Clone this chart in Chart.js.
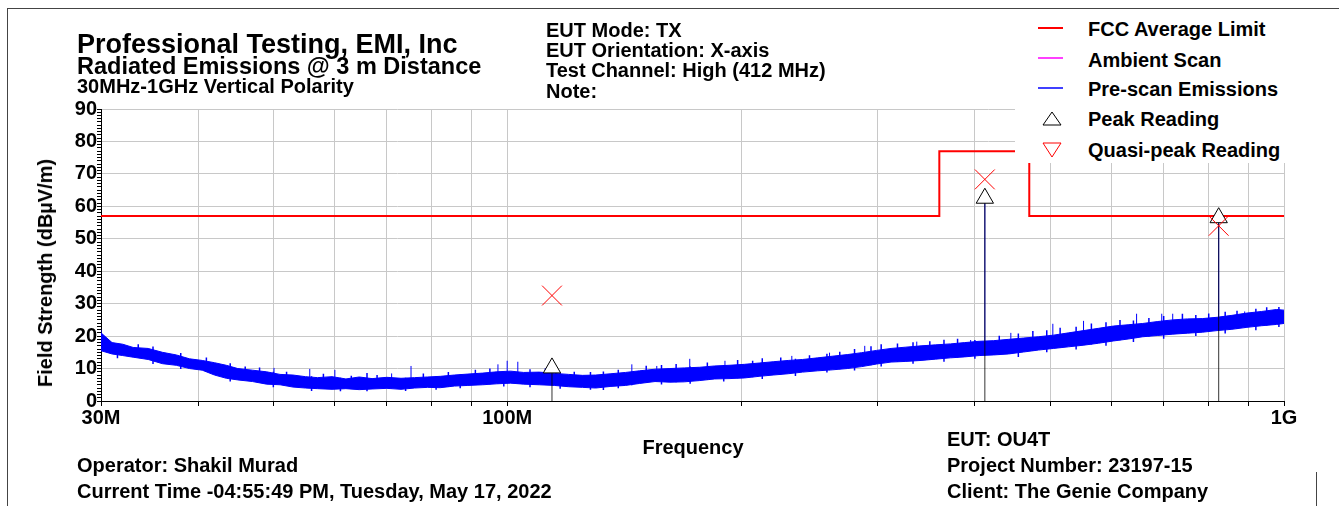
<!DOCTYPE html>
<html>
<head>
<meta charset="utf-8">
<script src="https://cdn.jsdelivr.net/npm/chart.js@4.4.0/dist/chart.umd.min.js"></script>
<style>
  body { margin: 0; background: #fff; }
  #wrap { position: relative; width: 1339px; height: 506px; overflow: hidden;
          font-family: 'Liberation Sans', Arial, sans-serif; font-weight: bold; color: #000; }
  #wrap canvas { position: absolute; left: 0; top: 0; }
  .t { position: absolute; white-space: nowrap; line-height: 1; font-size: 20px; }
  .ln { position: absolute; background: #444; }
  #legend { position: absolute; left: 1015px; top: 10px; width: 324px; height: 153px; background: #fff; }
</style>
</head>
<body>
<div id="wrap">
  <canvas id="chart" width="1339" height="506"></canvas>

  <div class="ln" style="left:7px; top:8px; width:1332px; height:1px;"></div>
  <div class="ln" style="left:7px; top:8px; width:1px; height:498px;"></div>
  <div class="ln" style="left:1316px; top:472px; width:1px; height:34px;"></div>

  <div class="t" style="left:77px; top:31px; font-size:27px;">Professional Testing, EMI, Inc</div>
  <div class="t" style="left:77px; top:55px; font-size:23.5px;">Radiated Emissions @ 3 m Distance</div>
  <div class="t" style="left:77px; top:76px;">30MHz-1GHz Vertical Polarity</div>

  <div class="t" style="left:546px; top:20px;">EUT Mode: TX</div>
  <div class="t" style="left:546px; top:40px;">EUT Orientation: X-axis</div>
  <div class="t" style="left:546px; top:60px;">Test Channel: High (412 MHz)</div>
  <div class="t" style="left:546px; top:81px;">Note:</div>

  <div id="legend">
    <svg width="60" height="153" style="position:absolute; left:0; top:0;">
      <line x1="23" y1="18" x2="48" y2="18" stroke="#ff0000" stroke-width="2"/>
      <line x1="23" y1="48" x2="48" y2="48" stroke="#ff00ff" stroke-width="1.5"/>
      <line x1="23" y1="78" x2="48" y2="78" stroke="#0000ff" stroke-width="1.5"/>
      <polygon points="28,115 46,115 37,102" fill="#fff" stroke="#000" stroke-width="1"/>
      <polygon points="28,133 46,133 37,147" fill="#fff" stroke="#ff0000" stroke-width="1"/>
    </svg>
    <div class="t" style="left:73px; top:9px;">FCC Average Limit</div>
    <div class="t" style="left:73px; top:40px;">Ambient Scan</div>
    <div class="t" style="left:73px; top:69px;">Pre-scan Emissions</div>
    <div class="t" style="left:73px; top:99px;">Peak Reading</div>
    <div class="t" style="left:73px; top:130px;">Quasi-peak Reading</div>
  </div>

  <div class="t" style="left:45px; top:273px; transform:translate(-50%,-50%) rotate(-90deg);">Field Strength (dBµV/m)</div>
  <div class="t" style="left:693px; top:437px; transform:translateX(-50%);">Frequency</div>

  <div class="t" style="left:77px; top:455px;">Operator: Shakil Murad</div>
  <div class="t" style="left:77px; top:481px;">Current Time -04:55:49 PM, Tuesday, May 17, 2022</div>
  <div class="t" style="left:947px; top:429px;">EUT: OU4T</div>
  <div class="t" style="left:947px; top:455px;">Project Number: 23197-15</div>
  <div class="t" style="left:947px; top:481px;">Client: The Genie Company</div>
</div>

<script>
// limit line (MHz, dBuV/m)
const limitFreq = [30, 360, 360, 470, 470, 1000];
const limitLevel = [57, 57, 77, 77, 57, 57];

// pre-scan emissions: band edges
const scanFreq = [30, 31, 32, 33, 34.5, 36, 37.5, 39, 40.5, 42,
  43.5, 45, 47, 49, 51, 53, 55, 57, 59.5, 62,
  64.5, 67, 70, 73, 76, 79, 82, 85.5, 89, 93,
  97, 101, 105, 110, 115, 120, 125, 130, 136, 142,
  148, 155, 162, 169, 177, 185, 193, 202, 211, 220,
  230, 240, 251, 262, 274, 286, 299, 312, 326, 341,
  356, 372, 388, 405, 423, 442, 462, 483, 505, 528,
  552, 577, 603, 630, 658, 688, 719, 751, 785, 820,
  857, 896, 936, 978, 1000];
const scanLow = [15.5, 14.5, 14, 13.5, 12.8, 11.5, 11, 10, 9.5, 8,
  7, 6.5, 6, 5.2, 5, 4.3, 4, 3.8, 3.6, 3.8,
  3.5, 3.7, 3.9, 3.6, 4, 4.2, 4.1, 4.6, 4.8, 5,
  5.3, 5.5, 5.2, 5, 4.8, 4.4, 4.2, 4, 4.5, 4.8,
  5.4, 6, 5.8, 5.9, 6.3, 6.8, 6.9, 7.1, 7.6, 8,
  8.4, 8.9, 9.3, 9.6, 10, 10.6, 11.4, 12, 12.2, 12.5,
  12.9, 13.3, 13.6, 14, 14.2, 14.5, 15.1, 15.7, 16.2, 16.7,
  17.2, 17.8, 18.5, 19.1, 19.8, 20.2, 20.6, 20.9, 21.2, 21.7,
  22.1, 22.7, 23.2, 23.6, 23.9];
const scanHigh = [21, 18, 17.5, 16.5, 16.2, 15, 14.2, 13, 12.5, 11.8,
  11, 10, 9.5, 9, 8.2, 8, 7.5, 7.2, 7.5, 6.8,
  7.4, 6.9, 7.3, 7, 7.2, 7.4, 7.6, 8, 8.3, 8.6,
  9, 9.2, 8.8, 8.9, 8.5, 8.2, 7.9, 8, 8.4, 8.8,
  9.3, 9.8, 10, 10.2, 10.4, 10.8, 11, 11.3, 11.7, 12.1,
  12.5, 12.8, 13.3, 13.8, 14.3, 14.9, 15.6, 16.2, 16.6, 17,
  17.3, 17.6, 18, 18.4, 18.6, 19, 19.4, 19.8, 20.3, 21,
  21.7, 22.4, 23.1, 23.5, 23.9, 24.5, 25, 25.3, 25.4, 25.8,
  26.4, 27.1, 27.6, 28.2, 28];

// noise strokes sticking out of the band (low end, high end)
const strokeFreq = [31.5, 33.5, 35, 38, 41, 44, 46, 48, 50, 52,
  56, 58, 61, 63, 66, 68, 74, 78, 81, 84,
  87, 91, 95, 99, 107, 112, 117, 122, 128, 133,
  139, 151, 158, 165, 172, 181, 190, 198, 207, 213,
  225, 235, 245, 258, 268, 280, 294, 303, 318, 333,
  350, 365, 380, 400, 430, 455, 475, 495, 515, 540,
  565, 590, 615, 640, 670, 700, 740, 770, 800, 840,
  870, 920, 950, 985];
const strokeLow = [13.2, 14, 11.4, 9.9, 9, 6, 6.8, 5.8, 4.2, 4.8,
  3.1, 4, 3, 4, 3, 4, 3.1, 4.2, 3.5, 4.3,
  3.9, 5, 5.2, 4.5, 4.2, 5, 3.8, 4.4, 3.5, 3.4,
  3.9, 5.7, 5.1, 5.8, 5.3, 6.5, 6, 7, 7.3, 6.8,
  8.2, 7.7, 9, 8.8, 9.8, 9.4, 11, 10.6, 12, 11.5,
  12.7, 12.1, 13.4, 13, 14.2, 13.6, 15.4, 15, 16.4, 15.9,
  17.4, 17, 18.7, 18.2, 19.9, 19.2, 20.7, 20, 21.4, 20.8,
  22.2, 21.8, 23.3, 22.8];
const strokeHigh = [17, 17.5, 16.8, 14.8, 13.4, 11.6, 10.6, 10.3, 9, 9,
  7.6, 8.4, 7.2, 7.8, 8.6, 8, 7.2, 8.5, 7.6, 8.9,
  8.2, 9.6, 10, 9, 9.8, 10.1, 8.6, 9, 8.9, 9.1,
  9.6, 10.9, 11.1, 11.4, 10.6, 11.9, 11, 12.6, 12.4, 13.2,
  13.4, 13, 14.1, 14.6, 15.2, 16, 16.9, 17.5, 17.7, 18.1,
  18.4, 18.9, 19.2, 18.8, 20.1, 20.8, 21.6, 21.8, 22.6, 22.9,
  23.9, 24.3, 25, 24.8, 25.6, 26.2, 26.9, 26.5, 27, 27.5,
  27.8, 28.4, 28.9, 29];

// taller spikes in the pre-scan trace (incl. the 412 MHz carrier and its harmonic)
const spikeFreq = [30, 50.1, 55.7, 60, 71, 75.2, 97.3, 100, 103.2, 144.7,
  155.8, 171.8, 190.7, 232.5, 260, 288.6, 336.7, 395, 412, 445,
  504, 552, 646, 696, 719, 824, 890];
const spikeBase = [15.5, 5, 4.2, 3.7, 3.9, 4, 5.3, 5.5, 5.3, 4.8,
  6, 5.9, 6.9, 8.6, 9.5, 11.2, 12.5, 13.8, 14, 14.5,
  16.2, 17.2, 19.5, 20.3, 20.6, 21.7, 22.6];
const spikeTop = [22, 10.2, 9.9, 9.6, 8.5, 10.8, 11.3, 12.4, 12.1, 11.3,
  10.8, 13, 12.4, 13.9, 14.9, 17, 18.3, 18.8, 62.5, 21,
  23.8, 24.7, 26.9, 26.9, 26.9, 56.5, 27.6];

// final measurements
const peakFreq = [114.2, 412, 824];
const peakLevel = [10.2, 62.5, 56.5];
const qpFreq = [114.2, 412, 824];
const qpLevel = [32.5, 68.3, 54];

// axis ticks
const xTickVals = [30, 40, 50, 60, 70, 80, 90, 100, 200, 300, 400, 500, 600, 700, 800, 900, 1000];
const xTickLabels = ['30M', '', '', '', '', '', '', '100M', '', '', '', '', '', '', '', '', '1G'];
const yMajor = [0, 10, 20, 30, 40, 50, 60, 70, 80, 90];
const yMajorLabels = ['0', '10', '20', '30', '40', '50', '60', '70', '80', '90'];

const pts = (xs, ys) => xs.map((x, i) => ({x: x, y: ys[i]}));
const stems = (xs, lo, hi) => {
  let out = [];
  xs.forEach((x, i) => {
    out.push({x: x, y: lo[i]}, {x: x, y: hi[i]}, {x: x, y: null});
  });
  return out;
};

let yTicks = [];
for (let v = 0; v <= 90; v++) yTicks.push(v);

const tickFont = {family: "'Liberation Sans', Arial, sans-serif", size: 20, weight: 'bold'};

let chart = new Chart(document.getElementById('chart'), {
  type: 'line',
  data: {
    datasets: [
      { label: 'FCC Average Limit', data: pts(limitFreq, limitLevel),
        borderColor: '#ff0000', borderWidth: 2, pointRadius: 0, order: 1 },
      { label: 'Quasi-peak Reading', data: pts(qpFreq, qpLevel), showLine: false,
        pointStyle: 'crossRot', pointRadius: 14, borderColor: '#ff0000', borderWidth: 1, order: 0 },
      { label: 'Peak Reading', data: pts(peakFreq, peakLevel), showLine: false,
        pointStyle: 'triangle', pointRadius: 10, borderColor: '#000', backgroundColor: '#fff',
        borderWidth: 1, order: 0 },
      { label: 'peak stems', data: stems(peakFreq, peakFreq.map(() => 0), peakLevel),
        borderColor: 'rgba(0,0,0,0.8)', borderWidth: 1, pointRadius: 0, spanGaps: false, order: 2 },
      { label: 'spikes', data: stems(spikeFreq, spikeBase, spikeTop),
        borderColor: '#0000ff', borderWidth: 1, pointRadius: 0, spanGaps: false, order: 3 },
      { label: 'strokes', data: stems(strokeFreq, strokeLow, strokeHigh),
        borderColor: '#0000ff', borderWidth: 1.5, pointRadius: 0, spanGaps: false, order: 3 },
      { label: 'scan low', data: pts(scanFreq, scanLow),
        borderColor: '#0000ff', borderWidth: 1, pointRadius: 0, fill: false, order: 4 },
      { label: 'Pre-scan Emissions', data: pts(scanFreq, scanHigh),
        borderColor: '#0000ff', borderWidth: 1, pointRadius: 0, fill: '-1',
        backgroundColor: '#0000ff', order: 4 }
    ]
  },
  options: {
    responsive: false,
    animation: false,
    layout: { padding: { left: 0, top: 109, right: 55, bottom: 0 } },
    plugins: { legend: { display: false }, tooltip: { enabled: false } },
    scales: {
      x: {
        type: 'logarithmic', min: 30, max: 1000,
        afterBuildTicks: s => { s.ticks = xTickVals.map(v => ({value: v})); },
        afterFit: s => { s.height = 105; },
        ticks: { autoSkip: false, maxRotation: 0, padding: 0, color: '#000', font: tickFont,
                 callback: (v, i) => xTickLabels[i] },
        grid: { color: '#c8c8c8', tickColor: '#000', tickLength: 5 },
        border: { color: '#000', width: 1 }
      },
      y: {
        min: 0, max: 90,
        afterBuildTicks: s => { s.ticks = yTicks.map(v => ({value: v})); },
        afterFit: s => { s.width = 101; },
        ticks: { autoSkip: false, padding: 0, color: '#000', font: tickFont,
                 callback: v => { let k = yMajor.indexOf(v); return k >= 0 ? yMajorLabels[k] : ''; } },
        grid: { color: c => (c.tick && c.tick.value % 10 === 0) ? '#c8c8c8' : 'rgba(0,0,0,0)',
                tickColor: '#000', tickLength: 4 },
        border: { color: '#000', width: 1 }
      }
    }
  }
});
</script>
</body>
</html>
